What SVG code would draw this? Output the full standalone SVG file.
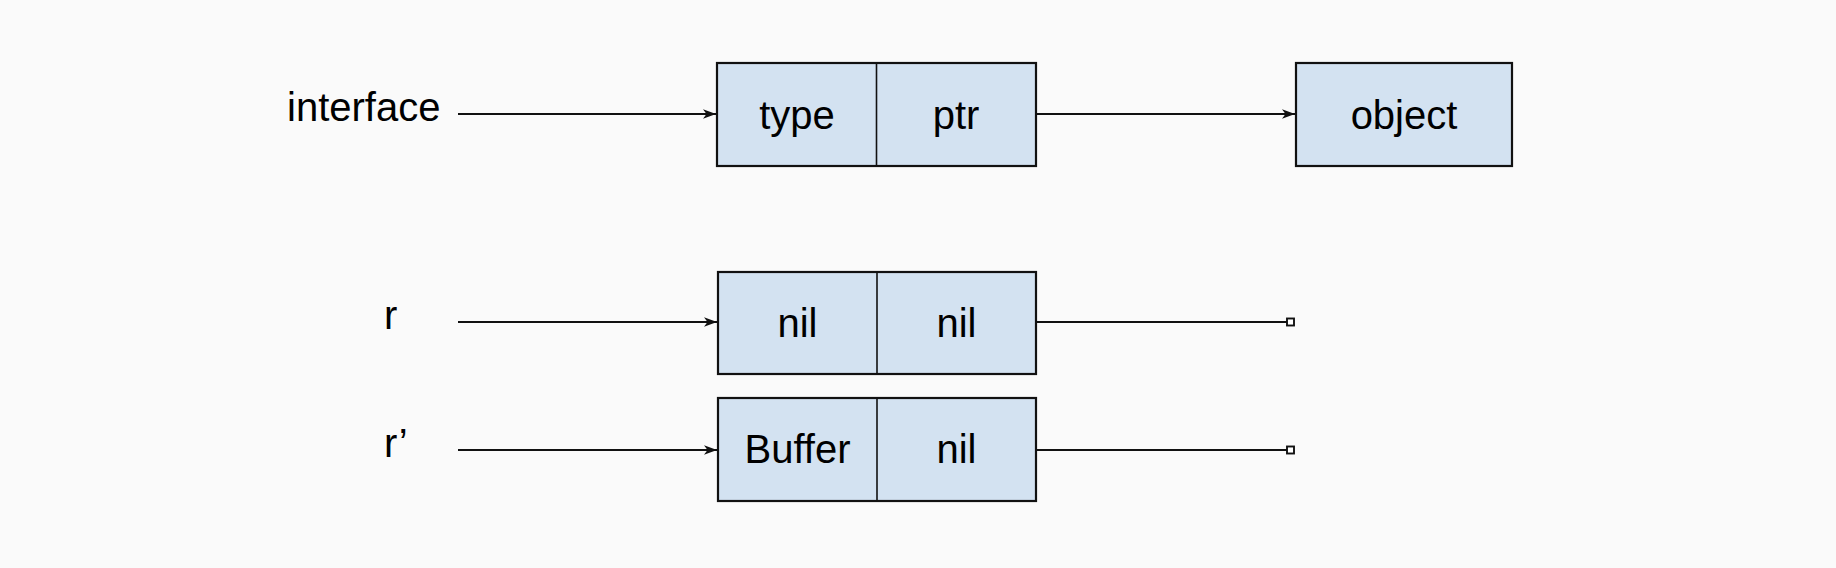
<svg xmlns="http://www.w3.org/2000/svg" width="1836" height="568" viewBox="0 0 1836 568">
<style>
.bg{fill:#fafafa}
.box{fill:#d3e2f1;stroke:#111;stroke-width:2.2}
.div{stroke:#111;stroke-width:1.6}
.t{font-family:"Liberation Sans",Arial,sans-serif;font-size:40px;fill:#000}
.c{text-anchor:middle}
.ln{stroke:#111;stroke-width:1.9;fill:none}
.end{fill:#fff;stroke:#111;stroke-width:1.9}
</style>
<defs>
<marker id="arr" markerWidth="16" markerHeight="12" refX="14" refY="6" orient="auto" markerUnits="userSpaceOnUse">
<path d="M14,6 L1,1.3 L4.5,6 L1,10.7 Z" fill="#111"/>
</marker>
</defs>
<rect class="bg" x="0" y="0" width="1836" height="568"/>
<g id="connectors">
<line class="ln" x1="458" y1="114" x2="716" y2="114" marker-end="url(#arr)"/>
<line class="ln" x1="1036" y1="114" x2="1295" y2="114" marker-end="url(#arr)"/>
<line class="ln" x1="458" y1="322" x2="717" y2="322" marker-end="url(#arr)"/>
<line class="ln" x1="458" y1="450" x2="717" y2="450" marker-end="url(#arr)"/>
<line class="ln" x1="1036" y1="322" x2="1287" y2="322"/>
<rect class="end" x="1287" y="318.5" width="7" height="7"/>
<line class="ln" x1="1036" y1="450" x2="1287" y2="450"/>
<rect class="end" x="1287" y="446.5" width="7" height="7"/>
</g>
<g id="label-interface"><text class="t" x="287" y="121">interface</text></g>
<g id="label-r"><text class="t" x="384" y="329">r</text></g>
<g id="label-r2"><text class="t" x="384" y="457">r’</text></g>
<g id="iface">
<rect class="box" x="717" y="63" width="319" height="103"/>
<line class="div" x1="876.5" y1="63" x2="876.5" y2="166"/>
<text class="t c" x="797" y="129">type</text>
<text class="t c" x="956" y="129">ptr</text>
</g>
<g id="object">
<rect class="box" x="1296" y="63" width="216" height="103"/>
<text class="t c" x="1404" y="129">object</text>
</g>
<g id="r">
<rect class="box" x="718" y="272" width="318" height="102"/>
<line class="div" x1="877" y1="272" x2="877" y2="374"/>
<text class="t c" x="797.5" y="337">nil</text>
<text class="t c" x="956.5" y="337">nil</text>
</g>
<g id="r-prime">
<rect class="box" x="718" y="398" width="318" height="103"/>
<line class="div" x1="877" y1="398" x2="877" y2="501"/>
<text class="t c" x="797.5" y="463">Buffer</text>
<text class="t c" x="956.5" y="463">nil</text>
</g>
</svg>
